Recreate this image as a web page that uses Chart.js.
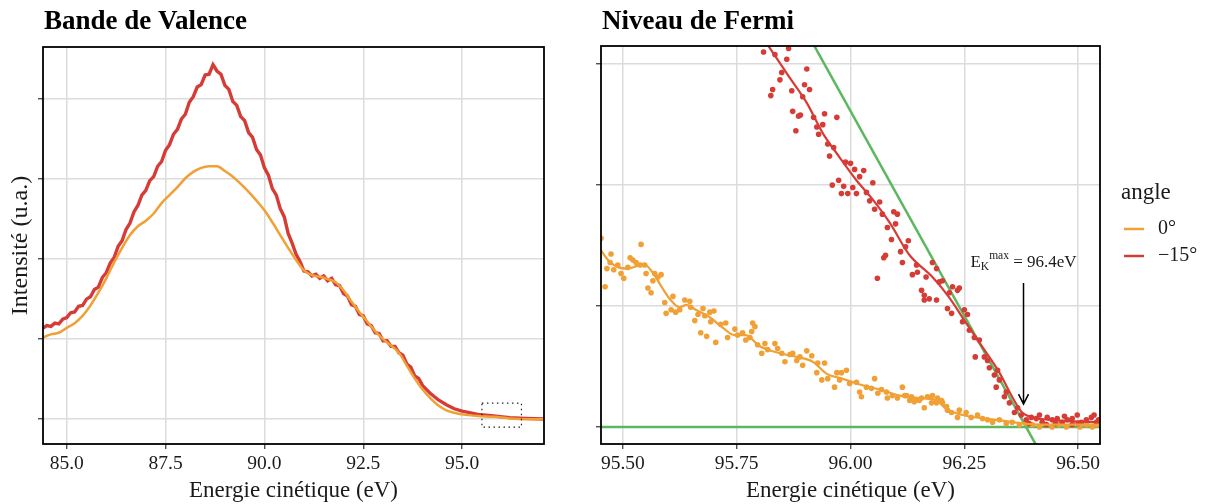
<!DOCTYPE html>
<html>
<head>
<meta charset="utf-8">
<script src="https://cdn.jsdelivr.net/npm/chart.js@4"></script>
<style>
  body { margin: 0; background: #fff; }
  #wrap { position: relative; width: 1205px; height: 504px; }
  #left { position: absolute; left: 0; top: 0; }
  #right { position: absolute; left: 560px; top: 0; }
</style>
</head>
<body>
<div id="wrap">
  <canvas id="left" width="560" height="504"></canvas>
  <canvas id="right" width="645" height="504"></canvas>
</div>
<script>
const ORANGE = '#F0A035', RED = '#D63C36', GREEN = '#5DB760', GRID = '#DCDCDC';
const SERIF = '"Liberation Serif", "DejaVu Serif", serif';

// ---- Bande de Valence ----
const valenceX0 = [84.4, 84.6, 84.8, 85.0, 85.2, 85.4, 85.6, 85.8, 86.0, 86.2, 86.4, 86.6, 86.8, 87.0, 87.2, 87.4,
  87.6, 87.8, 88.0, 88.2, 88.4, 88.6, 88.8, 89.0, 89.2, 89.4, 89.6, 89.8, 90.0, 90.2, 90.4, 90.6, 90.8, 91.0,
  91.2, 91.4, 91.6, 91.8, 92.0, 92.2, 92.4, 92.6, 92.8, 93.0, 93.2, 93.4, 93.6, 93.8, 94.0, 94.2, 94.4, 94.6,
  94.8, 95.0, 95.4, 95.8, 96.2, 96.6, 97.2];
const valence0 = [1.02, 1.06, 1.08, 1.14, 1.20, 1.29, 1.42, 1.58, 1.76, 1.96, 2.14, 2.30, 2.41, 2.48, 2.57, 2.70,
  2.80, 2.90, 3.01, 3.09, 3.14, 3.16, 3.16, 3.10, 3.03, 2.94, 2.84, 2.73, 2.61, 2.46, 2.30, 2.14, 1.99, 1.86,
  1.80, 1.78, 1.75, 1.71, 1.61, 1.47, 1.34, 1.22, 1.10, 1.00, 0.92, 0.83, 0.67, 0.51, 0.37, 0.26, 0.17, 0.11,
  0.08, 0.06, 0.04, 0.03, 0.01, 0.00, 0.00];

const valenceX15 = [84.4, 84.5, 84.6, 84.7, 84.8, 84.9, 85.0, 85.1, 85.2, 85.3, 85.4, 85.5, 85.6, 85.7, 85.8, 85.9,
  86.0, 86.1, 86.2, 86.3, 86.4, 86.5, 86.6, 86.7, 86.8, 86.9, 87.0, 87.1, 87.2, 87.3, 87.4, 87.5, 87.6, 87.7,
  87.8, 87.9, 88.0, 88.1, 88.2, 88.3, 88.4, 88.5, 88.6, 88.7, 88.8, 88.9, 89.0, 89.1, 89.2, 89.3, 89.4, 89.5,
  89.6, 89.7, 89.8, 89.9, 90.0, 90.1, 90.2, 90.3, 90.4, 90.5, 90.6, 90.7, 90.8, 90.9, 91.0, 91.1, 91.2, 91.3,
  91.4, 91.5, 91.6, 91.7, 91.8, 91.9, 92.0, 92.1, 92.2, 92.3, 92.4, 92.5, 92.6, 92.7, 92.8, 92.9, 93.0, 93.1,
  93.2, 93.3, 93.4, 93.5, 93.6, 93.7, 93.8, 93.9, 94.0, 94.2, 94.4, 94.6, 94.8, 95.0, 95.4, 95.8, 96.2, 96.6, 97.2];
const valence15 = [1.14, 1.17, 1.16, 1.20, 1.19, 1.25, 1.27, 1.33, 1.34, 1.41, 1.42, 1.50, 1.53, 1.62, 1.65, 1.77,
  1.83, 1.95, 2.02, 2.16, 2.23, 2.37, 2.45, 2.59, 2.67, 2.80, 2.86, 2.98, 3.03, 3.16, 3.22, 3.36, 3.43, 3.56,
  3.62, 3.75, 3.81, 3.96, 4.03, 4.15, 4.18, 4.30, 4.31, 4.43, 4.35, 4.31, 4.17, 4.12, 3.97, 3.92, 3.78, 3.73,
  3.58, 3.52, 3.37, 3.30, 3.14, 3.05, 2.88, 2.80, 2.63, 2.53, 2.32, 2.20, 2.06, 1.97, 1.85, 1.84, 1.79, 1.81,
  1.76, 1.79, 1.73, 1.76, 1.68, 1.67, 1.57, 1.54, 1.43, 1.41, 1.31, 1.29, 1.19, 1.17, 1.08, 1.07, 0.98, 0.98,
  0.91, 0.91, 0.83, 0.80, 0.69, 0.65, 0.54, 0.51, 0.42, 0.32, 0.24, 0.18, 0.13, 0.10, 0.06, 0.04, 0.02, 0.01, 0.00];

const valenceXTicks = [85, 87.5, 90, 92.5, 95];
const valenceYTicks = [0, 1, 2, 3, 4];
const zoomBox = [95.5, 96.5, -0.1, 0.2]; // xmin, xmax, ymin, ymax

// ---- Niveau de Fermi ----
const fermiX0 = [95.452, 95.474, 95.461, 95.540, 95.472, 95.465, 95.480, 95.489, 95.496, 95.502, 95.516, 95.522,
  95.511, 95.529, 95.538, 95.548, 95.551, 95.555, 95.562, 95.570, 95.577, 95.584, 95.566, 95.592, 95.610, 95.595,
  95.606, 95.616, 95.625, 95.636, 95.647, 95.649, 95.658, 95.665, 95.676, 95.680, 95.691, 95.700, 95.693, 95.671,
  95.684, 95.704, 95.715, 95.726, 95.730, 95.746, 95.752, 95.763, 95.785, 95.783, 95.779, 95.770, 95.790, 95.796,
  95.805, 95.812, 95.818, 95.834, 95.840, 95.849, 95.856, 95.867, 95.873, 95.882, 95.889, 95.895, 95.904, 95.915,
  95.928, 95.926, 95.943, 95.937, 95.950, 95.965, 95.970, 95.980, 95.991, 95.976, 95.998, 96.013, 96.020, 96.024,
  96.035, 96.046, 96.053, 96.060, 96.068, 96.079, 96.081, 96.092, 96.103, 96.114, 96.119, 96.130, 96.140, 96.151,
  96.162, 96.169, 96.178, 96.178, 96.191, 96.202, 96.213, 96.123, 96.134, 96.141, 96.156, 96.180, 96.189, 96.200,
  96.211, 96.222, 96.235, 96.239, 96.254, 96.265, 96.279, 96.290, 96.301, 96.312, 96.327, 96.342, 96.355, 96.371,
  96.386, 96.399, 96.415, 96.430, 96.443, 96.458, 96.474, 96.487, 96.504, 96.518, 96.531, 96.542];
const fermiY0 = [1.56, 1.43, 1.16, 1.51, 1.36, 1.31, 1.30, 1.34, 1.27, 1.23, 1.40, 1.38,
  1.32, 1.36, 1.34, 1.34, 1.27, 1.15, 1.11, 1.27, 1.24, 1.26, 1.21, 1.03, 1.08, 0.94,
  0.97, 0.95, 0.97, 1.05, 1.04, 0.99, 0.88, 0.93, 0.98, 0.92, 0.95, 0.96, 0.87, 0.78,
  0.75, 0.70, 0.85, 0.86, 0.74, 0.81, 0.76, 0.78, 0.86, 0.79, 0.74, 0.72, 0.83, 0.68,
  0.61, 0.69, 0.64, 0.69, 0.65, 0.61, 0.54, 0.60, 0.61, 0.55, 0.58, 0.51, 0.63, 0.59,
  0.53, 0.45, 0.53, 0.39, 0.40, 0.33, 0.45, 0.45, 0.47, 0.39, 0.36, 0.37, 0.29, 0.25,
  0.33, 0.32, 0.40, 0.28, 0.31, 0.29, 0.24, 0.26, 0.24, 0.33, 0.26, 0.22, 0.21, 0.22,
  0.16, 0.25, 0.25, 0.20, 0.24, 0.20, 0.14, 0.26, 0.25, 0.22, 0.24, 0.26, 0.20, 0.22,
  0.17, 0.12, 0.08, 0.14, 0.12, 0.08, 0.10, 0.07, 0.06, 0.04, 0.06, 0.03, 0.04, 0.02,
  0.03, 0.02, 0.00, 0.02, 0.00, 0.02, 0.00, 0.02, 0.00, 0.02, 0.00, 0.02];

const fermiX15 = [95.770, 95.809, 95.834, 95.864, 95.860, 95.904, 95.849, 95.845, 95.899, 95.829, 95.825, 95.871,
  95.910, 95.895, 95.873, 95.886, 95.890, 95.880, 95.919, 95.943, 95.970, 95.939, 95.926, 95.930, 95.950, 95.963,
  95.954, 95.989, 96.000, 96.009, 96.029, 96.020, 95.974, 95.960, 95.985, 96.005, 96.049, 95.980, 95.994, 96.013,
  96.035, 96.042, 96.064, 96.053, 96.070, 96.095, 96.103, 96.081, 96.099, 96.090, 96.127, 96.121, 96.110, 96.077,
  96.073, 96.059, 96.114, 96.145, 96.136, 96.147, 96.166, 96.180, 96.189, 96.195, 96.202, 96.156, 96.162, 96.162,
  96.173, 96.189, 96.217, 96.224, 96.235, 96.239, 96.213, 96.222, 96.250, 96.257, 96.246, 96.261, 96.272, 96.283,
  96.274, 96.294, 96.301, 96.305, 96.323, 96.316, 96.327, 96.320, 96.342, 96.338, 96.349, 96.360, 96.367, 96.375,
  96.386, 96.397, 96.408, 96.421, 96.430, 96.432, 96.443, 96.454, 96.465, 96.476, 96.487, 96.487, 96.498, 96.507,
  96.518, 96.529, 96.540, 96.392, 96.415, 96.450, 96.470, 96.500, 96.535, 96.545];
const fermiY15 = [3.17, 3.10, 3.08, 3.13, 3.04, 2.96, 2.93, 2.87, 2.83, 2.79, 2.74, 2.78,
  2.79, 2.73, 2.61, 2.57, 2.58, 2.45, 2.56, 2.59, 2.56, 2.50, 2.48, 2.42, 2.34, 2.31,
  2.24, 2.19, 2.18, 2.13, 2.12, 2.07, 2.04, 2.00, 1.99, 1.98, 2.02, 1.93, 1.93, 1.93,
  1.94, 1.87, 1.86, 1.80, 1.76, 1.78, 1.76, 1.65, 1.68, 1.55, 1.54, 1.49, 1.45, 1.42,
  1.40, 1.23, 1.36, 1.34, 1.26, 1.28, 1.24, 1.36, 1.31, 1.20, 1.21, 1.13, 1.09, 1.05,
  1.06, 1.05, 1.11, 1.16, 1.13, 1.15, 0.98, 0.94, 0.97, 0.93, 0.87, 0.80, 0.74, 0.72,
  0.58, 0.58, 0.55, 0.49, 0.47, 0.43, 0.39, 0.33, 0.29, 0.25, 0.20, 0.12, 0.16, 0.10,
  0.06, 0.08, 0.07, 0.04, 0.02, 0.08, 0.06, 0.07, 0.04, 0.06, 0.07, 0.02, 0.10, 0.04,
  0.06, 0.08, 0.04, 0.03, 0.10, 0.03, 0.09, 0.03, 0.10, 0.06];

const smoothX0 = [95.452, 95.470, 95.490, 95.510, 95.530, 95.545, 95.565, 95.585, 95.605, 95.625, 95.640, 95.660,
  95.690, 95.720, 95.745, 95.770, 95.800, 95.845, 95.882, 95.917, 95.948, 95.983, 96.013, 96.064, 96.108, 96.150,
  96.189, 96.210, 96.246, 96.320, 96.393, 96.460, 96.548];
const smoothY0 = [1.46, 1.37, 1.32, 1.31, 1.33, 1.35, 1.28, 1.16, 1.05, 0.99, 1.01, 0.97,
  0.91, 0.82, 0.76, 0.76, 0.67, 0.61, 0.58, 0.54, 0.44, 0.40, 0.36, 0.31, 0.26, 0.24,
  0.22, 0.15, 0.10, 0.06, 0.025, 0.02, 0.02];
const smoothX15 = [95.800, 95.818, 95.866, 95.904, 95.939, 95.976, 96.013, 96.049, 96.086, 96.130, 96.180, 96.217,
  96.254, 96.290, 96.327, 96.355, 96.377, 96.400, 96.437, 96.548];
const smoothY15 = [3.26, 3.16, 2.89, 2.68, 2.43, 2.23, 2.04, 1.88, 1.69, 1.42, 1.24, 1.07,
  0.86, 0.66, 0.45, 0.25, 0.12, 0.08, 0.06, 0.04];

const edgeX = [95.90, 96.43];
const edgeY = [3.29, -0.30];
const baseX = [95.40, 96.60];
const baseY = [0, 0];

const fermiXTicks = [95.5, 95.75, 96.0, 96.25, 96.5];
const fermiYTicks = [0, 1, 2, 3];
const arrowX = 96.38, arrowFrom = 1.19, arrowTo = 0.19, labelY = 1.32;
const edgeValue = '96.4eV';

const pts = (xs, ys) => xs.map((x, i) => ({ x, y: ys[i] }));

const decor = {
  id: 'decor',
  afterDatasetsDraw(chart, args, o) {
    const { ctx, scales: { x, y } } = chart;
    if (o.box) {
      ctx.save();
      ctx.strokeStyle = '#222';
      ctx.lineWidth = 1.2;
      ctx.setLineDash([1.5, 3.5]);
      const x0 = x.getPixelForValue(o.box[0]), x1 = x.getPixelForValue(o.box[1]);
      const y0 = y.getPixelForValue(o.box[3]), y1 = y.getPixelForValue(o.box[2]);
      ctx.strokeRect(x0, y0, x1 - x0, y1 - y0);
      ctx.restore();
    }
  },
  afterDraw(chart, args, o) {
    const { ctx, chartArea: a, scales: { x, y } } = chart;
    ctx.save();
    ctx.strokeStyle = '#000';
    ctx.lineWidth = 1.8;
    ctx.strokeRect(a.left, a.top, a.right - a.left, a.bottom - a.top);

    ctx.fillStyle = '#000';
    ctx.font = 'bold 27px ' + SERIF;
    ctx.textAlign = 'left';
    ctx.textBaseline = 'alphabetic';
    ctx.fillText(o.title, a.left + 1, 29);

    ctx.fillStyle = '#1a1a1a';
    ctx.font = '23px ' + SERIF;
    ctx.textAlign = 'center';
    ctx.fillText('Energie cinétique (eV)', (a.left + a.right) / 2, 497);

    if (o.yTitle) {
      ctx.save();
      ctx.font = '24px ' + SERIF;
      ctx.translate(21, (a.top + a.bottom) / 2);
      ctx.rotate(-Math.PI / 2);
      ctx.textBaseline = 'middle';
      ctx.fillText(o.yTitle, 0, 0);
      ctx.restore();
    }

    if (o.arrow) {
      const ax = x.getPixelForValue(arrowX);
      const ay0 = y.getPixelForValue(arrowFrom), ay1 = y.getPixelForValue(arrowTo);
      ctx.strokeStyle = '#000';
      ctx.lineWidth = 1.5;
      ctx.beginPath();
      ctx.moveTo(ax, ay0); ctx.lineTo(ax, ay1);
      ctx.moveTo(ax - 5, ay1 - 10); ctx.lineTo(ax, ay1); ctx.lineTo(ax + 5, ay1 - 10);
      ctx.stroke();

      // E_K^max = 96.4eV
      const by = y.getPixelForValue(labelY);
      const parts = [
        { t: 'E', f: '17px ', dy: 0 },
        { t: 'K', f: '11.5px ', dy: 3 },
        { t: 'max', f: '11.5px ', dy: -8 },
        { t: ' = ' + edgeValue, f: '17px ', dy: 0 }
      ];
      ctx.textAlign = 'left';
      let w = 0;
      parts.forEach(p => { ctx.font = p.f + SERIF; p.w = ctx.measureText(p.t).width; w += p.w; });
      let cx = ax - w / 2;
      parts.forEach(p => { ctx.font = p.f + SERIF; ctx.fillText(p.t, cx, by + p.dy); cx += p.w; });
    }

    if (o.legend) {
      const lx = a.right + 21;
      ctx.textAlign = 'left';
      ctx.fillStyle = '#1a1a1a';
      ctx.font = '23px ' + SERIF;
      ctx.fillText('angle', lx, 199);
      ctx.font = '20px ' + SERIF;
      ctx.textBaseline = 'middle';
      [['0°', ORANGE, 229], ['\u221215°', RED, 256]].forEach(([lab, col, ly]) => {
        ctx.strokeStyle = col;
        ctx.lineWidth = 2.5;
        ctx.beginPath();
        ctx.moveTo(lx + 3, ly); ctx.lineTo(lx + 23, ly);
        ctx.stroke();
        ctx.fillText(lab, lx + 37, ly);
      });
    }
    ctx.restore();
  }
};

function axis(min, max, tickList, opts) {
  return {
    type: 'linear', min, max,
    afterBuildTicks: s => { s.ticks = tickList.map(v => ({ value: v })); },
    afterFit: opts.fit,
    border: { display: false },
    grid: { color: GRID, lineWidth: 1.5, tickLength: 5, tickColor: '#333', tickWidth: 1.2 },
    ticks: {
      display: opts.labels, font: { family: SERIF, size: 19.5 }, color: '#1a1a1a', padding: 3,
      maxRotation: 0, autoSkip: false, callback: v => v.toFixed(opts.digits)
    }
  };
}

function makeChart(id, c) {
  return new Chart(document.getElementById(id), {
    type: 'scatter',
    data: { datasets: c.datasets },
    options: {
      responsive: false, animation: false, devicePixelRatio: 1,
      layout: { padding: c.padding },
      plugins: { legend: { display: false }, tooltip: { enabled: false }, decor: c.decor },
      scales: {
        x: axis(c.x[0], c.x[1], c.xTicks, { labels: true, digits: c.digits, fit: s => { s.height = 60; } }),
        y: axis(c.y[0], c.y[1], c.yTicks, { labels: false, digits: 0, fit: s => { s.width = c.yWidth; } })
      }
    },
    plugins: [decor]
  });
}

const lineDs = (data, color, width, smooth) => ({
  data, showLine: true, borderColor: color, borderWidth: width, pointRadius: 0,
  tension: 0, cubicInterpolationMode: smooth ? 'monotone' : 'default'
});
const dotDs = (data, color) => ({
  data, showLine: false, backgroundColor: color, borderWidth: 0, pointRadius: 2.8
});

makeChart('left', {
  datasets: [
    lineDs(pts(valenceX0, valence0), ORANGE, 2.5, true),
    lineDs(pts(valenceX15, valence15), RED, 3.4, false)
  ],
  x: [84.4, 97.07], y: [-0.31, 4.65], xTicks: valenceXTicks, yTicks: valenceYTicks, digits: 1,
  padding: { top: 47, right: 16, left: 0, bottom: 0 }, yWidth: 43,
  decor: { title: 'Bande de Valence', yTitle: 'Intensité (u.a.)', box: zoomBox }
});

makeChart('right', {
  datasets: [
    lineDs(pts(smoothX15, smoothY15), RED, 2.2, true),
    lineDs(pts(smoothX0, smoothY0), ORANGE, 2.2, true),
    dotDs(pts(fermiX15, fermiY15), RED),
    dotDs(pts(fermiX0, fermiY0), ORANGE),
    lineDs(pts(edgeX, edgeY), GREEN, 2.5, false),
    lineDs(pts(baseX, baseY), GREEN, 2.5, false)
  ],
  x: [95.452, 96.548], y: [-0.14, 3.15], xTicks: fermiXTicks, yTicks: fermiYTicks, digits: 2,
  padding: { top: 46, right: 105, left: 0, bottom: 0 }, yWidth: 41,
  decor: { title: 'Niveau de Fermi', arrow: true, legend: true }
});
</script>
</body>
</html>
